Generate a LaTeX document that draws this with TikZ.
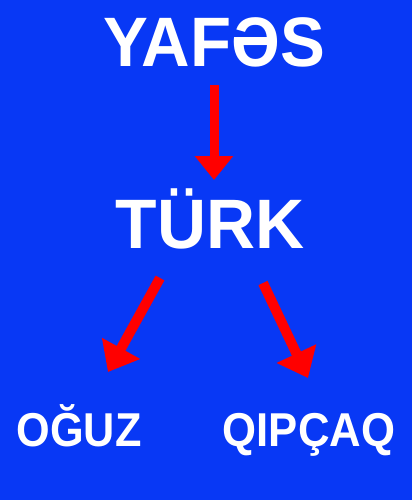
\documentclass[tikz,border=0pt]{standalone}
\usepackage{fontspec}
\setmainfont{Liberation Sans}
\usetikzlibrary{arrows.meta}
\definecolor{bgblue}{RGB}{8,56,245}
\definecolor{arrred}{RGB}{255,0,0}
\newcommand{\narrowword}[2]{\scalebox{#1}[1]{#2}}
\tikzset{
    word/.style={text=white, inner sep=0pt, anchor=base},
    bigword/.style={word, font=\bfseries\fontsize{70}{70}\selectfont},
    smallword/.style={word, font=\bfseries\fontsize{47.5}{47.5}\selectfont},
    redarrow/.style={draw=arrred, line width=9pt,
        -{Triangle[width=37pt, length=24pt, fill=arrred]}},
    sidearrow/.style={draw=arrred, line width=10pt,
        -{Triangle[width=42pt, length=27pt, fill=arrred]}}
}
\begin{document}
\begin{tikzpicture}[x=1pt, y=-1pt]
    \fill[bgblue] (0, 0) rectangle (412, 500);
    \useasboundingbox (0, 0) rectangle (412, 500);
    % words
    \node[bigword] (yafes) at (214, 67) {\narrowword{0.96}{YAFƏS}};
    \node[bigword] (turk) at (210, 248) {\narrowword{0.97}{TÜRK}};
    \node[smallword] (oguz) at (79, 446) {\narrowword{0.91}{OĞUZ}};
    \node[smallword] (qipcaq) at (309, 446) {\narrowword{0.92}{QIPÇAQ}};
    % arrow ends
    \coordinate (a1s) at (214, 85);
    \coordinate (a1e) at (214, 180);
    \coordinate (a2s) at (160, 278);
    \coordinate (a2e) at (108, 372);
    \coordinate (a3s) at (263, 283);
    \coordinate (a3e) at (308, 378);
    \draw[redarrow] (a1s) -- (a1e);
    \draw[sidearrow] (a2s) -- (a2e);
    \draw[sidearrow] (a3s) -- (a3e);
\end{tikzpicture}
\end{document}
